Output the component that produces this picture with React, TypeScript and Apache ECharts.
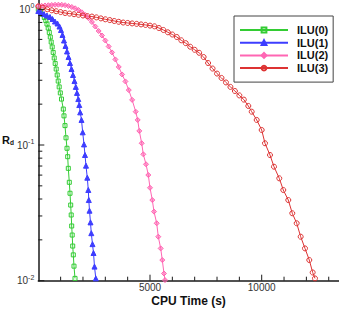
import React, { useEffect, useRef } from "react";
import * as echarts from "echarts";

// ILU(0)
const ILU0_T = [0, 98, 188, 269, 336, 389, 443, 492, 537, 577, 622, 667, 712, 756, 801, 846, 891, 935, 985, 1038, 1119, 1150, 1195, 1240, 1285, 1316, 1343, 1388, 1419, 1450, 1473, 1495, 1517, 1540, 1567, 1598, 1643];
const ILU0_R = [1.0, 0.963, 0.916, 0.87, 0.827, 0.779, 0.728, 0.675, 0.625, 0.574, 0.528, 0.481, 0.438, 0.399, 0.363, 0.328, 0.296, 0.268, 0.242, 0.218, 0.184, 0.164, 0.139, 0.113, 0.0946, 0.082, 0.0673, 0.0531, 0.0441, 0.0361, 0.0305, 0.0253, 0.0217, 0.018, 0.0155, 0.0128, 0.0104];

// ILU(1)
const ILU1_T = [0, 121, 255, 389, 524, 636, 747, 859, 949, 1016, 1083, 1150, 1218, 1285, 1352, 1419, 1486, 1553, 1620, 1679, 1732, 1790, 1835, 1875, 1934, 1987, 2046, 2090, 2135, 2193, 2238, 2260, 2292, 2336, 2372, 2426, 2471, 2516, 2574];
const ILU1_R = [0.972, 0.947, 0.923, 0.9, 0.878, 0.848, 0.813, 0.786, 0.747, 0.704, 0.647, 0.589, 0.537, 0.489, 0.445, 0.402, 0.363, 0.328, 0.296, 0.268, 0.242, 0.218, 0.197, 0.174, 0.153, 0.124, 0.101, 0.0844, 0.0704, 0.0574, 0.0466, 0.0393, 0.0328, 0.0269, 0.0224, 0.0186, 0.016, 0.0127, 0.0104];

// ILU(2)
const ILU2_T = [0, 150, 300, 450, 600, 750, 900, 1050, 1200, 1350, 1500, 1650, 1800, 1950, 2100, 2250, 2400, 2550, 2700, 2850, 3000, 3150, 3300, 3450, 3600, 3750, 3900, 4050, 4200, 4360, 4449, 4521, 4628, 4700, 4821, 4924, 5000, 5103, 5179, 5300, 5371, 5479, 5550, 5626, 5671];
const ILU2_R = [1.057, 1.061, 1.067, 1.072, 1.076, 1.08, 1.081, 1.08, 1.072, 1.057, 1.04, 1.017, 0.988, 0.95, 0.908, 0.86, 0.806, 0.747, 0.692, 0.641, 0.589, 0.532, 0.481, 0.427, 0.376, 0.331, 0.294, 0.254, 0.215, 0.176, 0.153, 0.127, 0.103, 0.0854, 0.0721, 0.0601, 0.0484, 0.0393, 0.0323, 0.0265, 0.0211, 0.0173, 0.0142, 0.0113, 0.0101];

// ILU(3)
const ILU3_T = [0, 200, 400, 600, 800, 1000, 1200, 1400, 1600, 1800, 2000, 2200, 2400, 2600, 2800, 3000, 3200, 3400, 3600, 3800, 4000, 4200, 4400, 4600, 4800, 5000, 5200, 5400, 5600, 5800, 6000, 6200, 6400, 6600, 6800, 7000, 7200, 7400, 7600, 7800, 8000, 8200, 8400, 8600, 8800, 9000, 9200, 9400, 9552, 9776, 9999, 10147, 10371, 10550, 10787, 10966, 11190, 11369, 11566, 11745, 11938, 12130, 12282, 12385];
const ILU3_R = [1.05, 1.029, 1.0, 0.983, 0.968, 0.954, 0.939, 0.93, 0.92, 0.911, 0.9, 0.891, 0.884, 0.872, 0.857, 0.844, 0.833, 0.82, 0.809, 0.799, 0.793, 0.787, 0.781, 0.774, 0.767, 0.758, 0.749, 0.728, 0.704, 0.677, 0.652, 0.625, 0.591, 0.563, 0.53, 0.503, 0.478, 0.445, 0.402, 0.366, 0.336, 0.312, 0.289, 0.268, 0.25, 0.232, 0.216, 0.194, 0.176, 0.153, 0.129, 0.103, 0.0844, 0.0692, 0.0568, 0.0466, 0.0393, 0.0314, 0.0265, 0.0211, 0.0173, 0.0142, 0.0115, 0.0104];

const SERIES_NAMES = ["ILU(0)", "ILU(1)", "ILU(2)", "ILU(3)"];
const X_MAX = 13460;
const Y_MIN = 0.01;
const Y_MAX = 1.171;
const X_MAJOR = [5000, 10000];
const X_MINOR = [1000, 2000, 3000, 4000, 6000, 7000, 8000, 9000, 11000, 12000, 13000];
const Y_MAJOR = [0.01, 0.1, 1];
const Y_MINOR = [2, 3, 4, 5, 6, 7, 8, 9].flatMap((k) => [k * 0.01, k * 0.1]);

const FONT = "'Liberation Sans', Arial, Helvetica, sans-serif";
const AXIS_COLOR = "#1a1a1a";

export default function App() {
  const ref = useRef<HTMLDivElement>(null);

  useEffect(() => {
    const chart = echarts.init(ref.current!, null, { renderer: "svg" });

    const mk = (
      name: string,
      t: number[],
      r: number[],
      color: string,
      symbol: string,
      size: number,
      fill: string
    ) => ({
      type: "line",
      name,
      data: t.map((x, i) => [x, r[i]]),
      symbol,
      symbolSize: size,
      showSymbol: true,
      color,
      lineStyle: { color, width: 1 },
      itemStyle: { color: fill, borderColor: color, borderWidth: 1 },
      emphasis: { disabled: true },
    });

    const xTicks = [
      ...X_MAJOR.map((v) => [v, Y_MIN, 6]),
      ...X_MINOR.map((v) => [v, Y_MIN, 4]),
    ];
    const yTicks = [
      ...Y_MAJOR.map((v) => [0, v, 6]),
      ...Y_MINOR.map((v) => [0, v, 4]),
    ];

    chart.setOption({
      animation: false,
      textStyle: { fontFamily: FONT },
      grid: { left: 38.3, right: 0, top: 0, bottom: 29.3 },
      xAxis: {
        type: "value",
        min: 0,
        max: X_MAX,
        interval: 5000,
        axisLine: { show: true, onZero: false, lineStyle: { color: AXIS_COLOR, width: 1.5 } },
        axisTick: { show: false },
        splitLine: { show: false },
        axisLabel: {
          margin: 2,
          fontSize: 10,
          color: "#333",
          fontFamily: FONT,
          showMaxLabel: false,
          formatter: (v: number) => (X_MAJOR.includes(v) ? String(v) : ""),
        },
      },
      yAxis: {
        type: "log",
        logBase: 10,
        min: Y_MIN,
        max: Y_MAX,
        axisLine: { show: true, onZero: false, lineStyle: { color: AXIS_COLOR, width: 1.5 } },
        axisTick: { show: false },
        splitLine: { show: false },
        axisLabel: {
          margin: 4,
          color: "#333",
          fontFamily: FONT,
          showMaxLabel: false,
          formatter: (v: number) => {
            const l = Math.log10(v);
            const e = Math.round(l);
            if (Math.abs(l - e) > 1e-6 || e > 0) return "";
            return `{b|10}{e|${e}}`;
          },
          rich: {
            b: { fontSize: 10, color: "#333", fontFamily: FONT },
            e: { fontSize: 7, color: "#333", fontFamily: FONT, padding: [0, 0, 7, 0] },
          },
        },
      },
      legend: {
        data: SERIES_NAMES,
        orient: "vertical",
        left: 234,
        top: 16,
        padding: [8, 5, 8, 5],
        itemWidth: 48,
        itemHeight: 6,
        itemGap: 0.7,
        borderColor: "#444",
        borderWidth: 1,
        backgroundColor: "#fff",
        selectedMode: false,
        textStyle: {
          fontFamily: FONT,
          fontSize: 11,
          fontWeight: "bold",
          color: "#111",
          lineHeight: 12,
          padding: [0, 0, 0, 4],
        },
      },
      graphic: [
        {
          type: "text",
          x: 188.6,
          y: 301,
          style: {
            text: "CPU Time (s)",
            align: "center",
            verticalAlign: "middle",
            font: `bold 12px ${FONT}`,
            fill: "#111",
          },
        },
        {
          type: "text",
          x: 2,
          y: 133,
          style: {
            text: "{r|R}{d|d}",
            rich: {
              r: { fontSize: 11, fontWeight: "bold", fontFamily: FONT, fill: "#111", color: "#111" },
              d: { fontSize: 6.5, fontWeight: "bold", fontFamily: FONT, fill: "#111", color: "#111", padding: [6, 0, 0, 0] },
            },
          },
        },
      ],
      series: [
        mk(SERIES_NAMES[0], ILU0_T, ILU0_R, "#33cc33", "rect", 4, "rgba(0,0,0,0)"),
        mk(SERIES_NAMES[1], ILU1_T, ILU1_R, "#3d3dff", "triangle", 5, "#3d3dff"),
        mk(SERIES_NAMES[2], ILU2_T, ILU2_R, "#ff66b3", "diamond", 5, "rgba(255,102,179,0.55)"),
        mk(SERIES_NAMES[3], ILU3_T, ILU3_R, "#dd3333", "circle", 5, "rgba(0,0,0,0)"),
        {
          type: "custom",
          name: "xticks",
          silent: true,
          clip: false,
          data: xTicks,
          encode: { x: 0, y: 1 },
          z: 5,
          renderItem: (_params: any, api: any) => {
            const p = api.coord([api.value(0), api.value(1)]);
            const len = api.value(2);
            return {
              type: "line",
              shape: { x1: p[0], y1: p[1], x2: p[0], y2: p[1] - len },
              style: { stroke: AXIS_COLOR, lineWidth: 1 },
            };
          },
        },
        {
          type: "custom",
          name: "yticks",
          silent: true,
          clip: false,
          data: yTicks,
          encode: { x: 0, y: 1 },
          z: 5,
          renderItem: (_params: any, api: any) => {
            const p = api.coord([api.value(0), api.value(1)]);
            const len = api.value(2);
            return {
              type: "line",
              shape: { x1: p[0], y1: p[1], x2: p[0] + len, y2: p[1] },
              style: { stroke: AXIS_COLOR, lineWidth: 1 },
            };
          },
        },
      ],
    });

    return () => chart.dispose();
  }, []);

  return (
    <div
      ref={ref}
      style={{ position: "fixed", left: 0, top: 0, width: 339, height: 310, background: "#fff" }}
    />
  );
}
